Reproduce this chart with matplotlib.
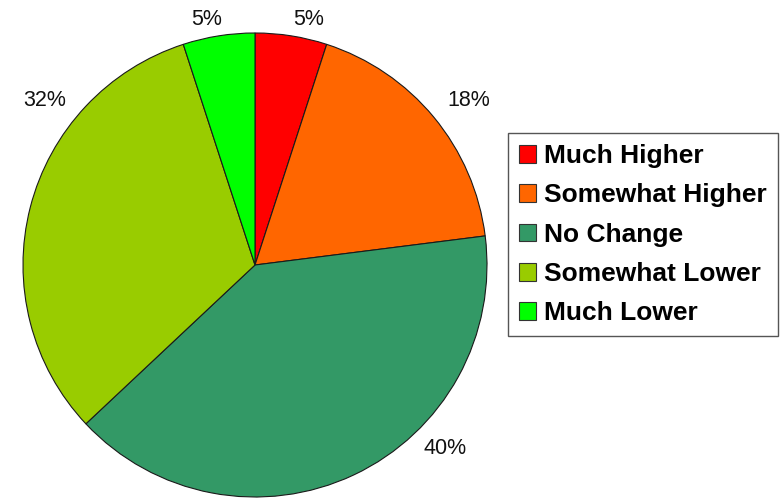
import matplotlib.pyplot as plt
from matplotlib.patches import Patch

# Survey answers, clockwise from the top
categories = ["Much Higher", "Somewhat Higher", "No Change", "Somewhat Lower", "Much Lower"]
shares = [5, 18, 40, 32, 5]
colors = ["#ff0000", "#ff6600", "#339966", "#99cc00", "#00ff00"]

# where each percentage label sits, in pie-radius units
label_xy = [(0.23, 1.06), (0.92, 0.71), (0.82, -0.79), (-0.905, 0.71), (-0.21, 1.06)]

W, H = 781, 498
fig = plt.figure(figsize=(W / 100, H / 100), dpi=100)

cx, cy, r = 255, 265, 232
ax = fig.add_axes([(cx - r) / W, (H - cy - r) / H, 2 * r / W, 2 * r / H])

wedges, _ = ax.pie(
    shares,
    colors=colors,
    startangle=90,
    counterclock=False,
    radius=1,
    wedgeprops=dict(edgecolor="#1a1a1a", linewidth=0.8),
)
ax.set_xlim(-1, 1)
ax.set_ylim(-1, 1)
ax.set_aspect("auto")
ax.axis("off")

for val, (x, y) in zip(shares, label_xy):
    ax.text(x, y, f"{val}%", ha="center", va="center",
            fontsize=15.5, family="Liberation Sans", color="#111111")

handles = [Patch(facecolor=c, edgecolor="#333333", linewidth=0.8) for c in colors]
leg = fig.legend(
    handles,
    categories,
    loc="upper left",
    bbox_to_anchor=(508 / W, 1 - 133 / H),
    borderaxespad=0,
    frameon=True,
    fancybox=False,
    framealpha=1,
    edgecolor="#555555",
    prop=dict(family="Liberation Sans", weight="bold", size=19),
    handlelength=0.65,
    handleheight=0.65,
    handletextpad=0.3,
    labelspacing=0.58,
    borderpad=0.42,
)
leg.get_frame().set_linewidth(1.0)

fig.savefig("out.png", dpi=100, facecolor="white")
